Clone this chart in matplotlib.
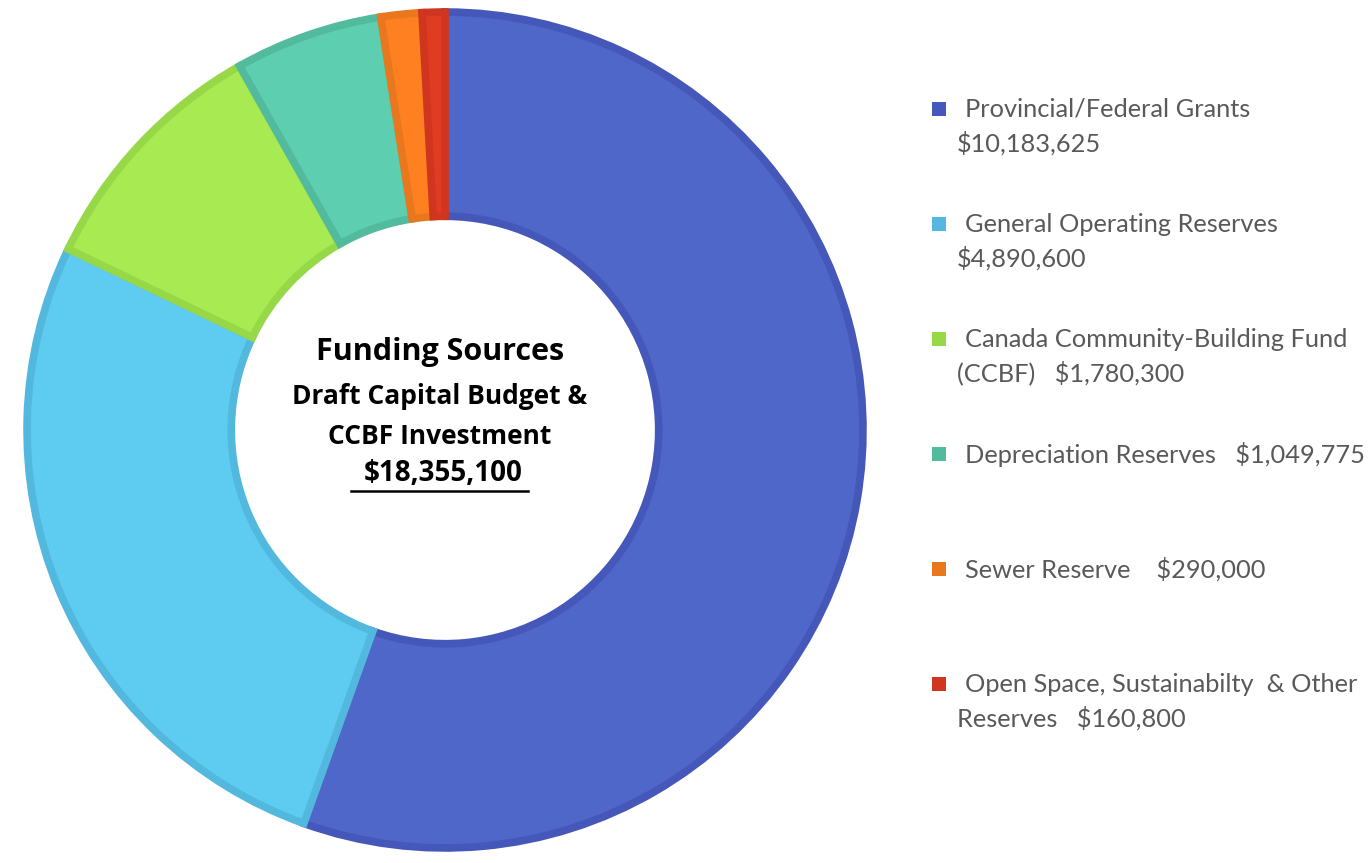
import matplotlib.pyplot as plt
from matplotlib.patches import Rectangle
from matplotlib.lines import Line2D

# funding sources, clockwise from 12 o'clock
labels = ["Provincial/Federal Grants", "General Operating Reserves",
          "Canada Community-Building Fund (CCBF)", "Depreciation Reserves",
          "Sewer Reserve", "Open Space, Sustainabilty & Other Reserves"]
values = [10183625, 4890600, 1780300, 1049775, 290000, 160800]
colors = ["#4E67C8", "#5ECCF0", "#A7EA52", "#5DCEAF", "#FF8021", "#E03C24"]
edges = ["#4557B8", "#52B8DD", "#97D848", "#52BA9D", "#E8771D", "#D0361F"]

# legend text, as written in the chart (first line, second line)
legend_lines = [
    ("Provincial/Federal Grants", "$10,183,625"),
    ("General Operating Reserves", "$4,890,600"),
    ("Canada Community-Building Fund", "(CCBF)   $1,780,300"),
    ("Depreciation Reserves   $1,049,775", None),
    ("Sewer Reserve    $290,000", None),
    ("Open Space, Sustainabilty  & Other", "Reserves   $160,800"),
]
total_text = "$18,355,100"

W, H = 1372, 863
fig = plt.figure(figsize=(W / 100, H / 100), dpi=100)

# pie axes: 860 px square centred on (445, 430)
ax = fig.add_axes([15 / W, 3 / H, 860 / W, 860 / H])
wedges, _ = ax.pie(values, colors=colors, startangle=90, counterclock=False,
                   radius=0.972,
                   wedgeprops=dict(width=0.475, linewidth=5.5))
for w, ec in zip(wedges, edges):
    w.set_edgecolor(ec)
ax.set_xlim(-1, 1)
ax.set_ylim(-1, 1)
ax.set_aspect("equal")
ax.axis("off")

# centre text
cx = 440 / W
cfont = "Open Sans"
fig.text(cx, 1 - 352 / H, "Funding Sources", ha="center", va="center",
         fontsize=22, fontweight="bold", family=cfont, color="black")
fig.text(cx, 1 - 396 / H, "Draft Capital Budget &", ha="center", va="center",
         fontsize=19, fontweight="bold", family=cfont, color="black")
fig.text(cx, 1 - 436 / H, "CCBF Investment", ha="center", va="center",
         fontsize=19, fontweight="bold", family=cfont, color="black")
fig.text(443 / W, 1 - 473 / H, total_text, ha="center", va="center",
         fontsize=20, fontweight="bold", family=cfont, color="black")
fig.add_artist(Line2D([351 / W, 528 / W], [1 - 491 / H, 1 - 491 / H],
                      transform=fig.transFigure, color="black", lw=1.8))

# legend, drawn by hand
font = "Lato"
y0 = 109
step = 115
for i, (l1, l2) in enumerate(legend_lines):
    y = y0 + i * step
    fig.add_artist(Rectangle((932 / W, 1 - (y + 7) / H), 14 / W, 14 / H,
                             transform=fig.transFigure, facecolor=edges[i],
                             edgecolor="none"))
    fig.text(965 / W, 1 - y / H, l1, ha="left", va="center", fontsize=18.3,
             family=font, color="#595959")
    if l2:
        fig.text(957 / W, 1 - (y + 34) / H, l2, ha="left", va="center",
                 fontsize=18.3, family=font, color="#595959")

fig.savefig("out.png", dpi=100, facecolor="white")
